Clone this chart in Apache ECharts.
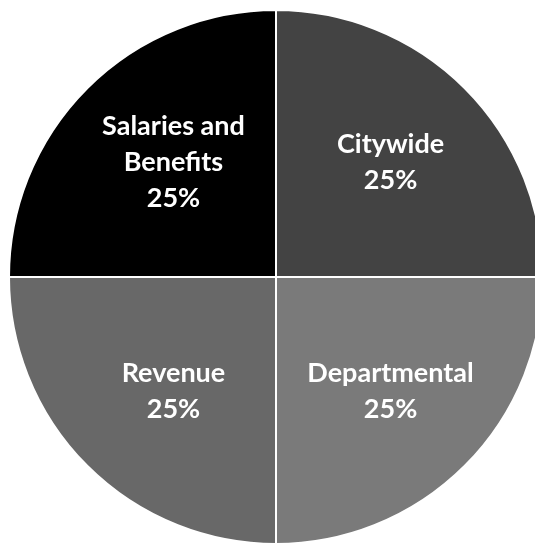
<!DOCTYPE html>
<html>
<head>
<meta charset="utf-8">
<script src="https://cdn.jsdelivr.net/npm/echarts@6/dist/echarts.min.js"></script>
<style>
html,body{margin:0;padding:0;background:#fff;}
#chart{width:535px;height:546px;}
</style>
</head>
<body>
<div id="chart"></div>
<script>
const categories = ['Citywide', 'Departmental', 'Revenue', 'Salaries and\nBenefits'];
const shares = [25, 25, 25, 25];
const sliceColors = ['#434343', '#7a7a7a', '#686868', '#000000'];

const chart = echarts.init(document.getElementById('chart'), null, {renderer: 'canvas'});
const data = categories.map((c, i) => ({name: c, value: shares[i], itemStyle: {color: sliceColors[i]}}));
const labelShift = [[0, 0], [0, 0], [12, 0], [12, 0]];
chart.setOption({
  animation: false,
  backgroundColor: '#ffffff',
  series: [
    {
      type: 'pie',
      center: [276, 277],
      radius: [0, 267],
      startAngle: 90,
      clockwise: true,
      silent: true,
      itemStyle: {borderColor: '#ffffff', borderWidth: 2},
      label: {show: false},
      labelLine: {show: false},
      data: data
    },
    {
      type: 'pie',
      center: [276, 277],
      radius: [0, 318],
      startAngle: 90,
      clockwise: true,
      silent: true,
      itemStyle: {color: 'transparent', borderWidth: 0},
      label: {
        show: true,
        position: 'inside',
        formatter: p => p.name + '\n' + p.value + '%',
        color: '#ffffff',
        fontFamily: 'Lato',
        fontWeight: 'bold',
        fontSize: 27,
        lineHeight: 36,
        align: 'center'
      },
      labelLine: {show: false},
      data: categories.map((c, i) => ({name: c, value: shares[i], label: {offset: labelShift[i]}}))
    }
  ]
});
</script>
</body>
</html>
